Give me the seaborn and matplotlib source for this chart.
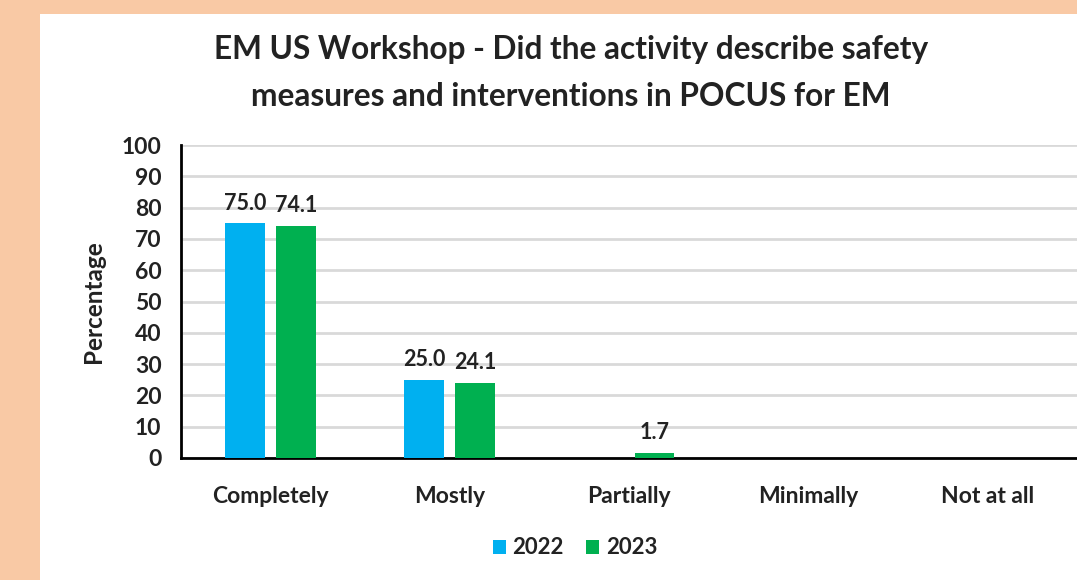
import matplotlib
matplotlib.use("Agg")
import matplotlib.pyplot as plt
import seaborn as sns
import pandas as pd
from matplotlib.patches import Rectangle

categories = ["Completely", "Mostly", "Partially", "Minimally", "Not at all"]
years = ["2022", "2023"]
values_2022 = [75.0, 25.0, 0.0, 0.0, 0.0]
values_2023 = [74.1, 24.1, 1.7, 0.0, 0.0]
colors = {"2022": "#00B0F0", "2023": "#00B050"}

df = pd.DataFrame({
    "category": categories * 2,
    "year": ["2022"] * len(categories) + ["2023"] * len(categories),
    "pct": values_2022 + values_2023,
})

sns.set_style("white")
plt.rcParams["font.family"] = ["Lato", "DejaVu Sans"]
plt.rcParams["font.weight"] = "bold"

fig = plt.figure(figsize=(10.77, 5.8), dpi=100, facecolor="#F9C9A5")
fig.patches.append(Rectangle((40 / 1077, 0), 1, 1 - 14 / 580, transform=fig.transFigure,
                             facecolor="white", edgecolor="none", zorder=-10))

ax = fig.add_axes([181 / 1077, 1 - 458 / 580, 896 / 1077, 313 / 580])
ax.set_facecolor("none")
sns.barplot(data=df, x="category", y="pct", hue="year", order=categories, hue_order=years,
            palette=colors, saturation=1, linewidth=0, width=0.57, gap=0.22, ax=ax,
            legend=True, zorder=3)

for cont in ax.containers:
    labels = [f"{b.get_height():.1f}" if b.get_height() > 0 else "" for b in cont]
    ax.bar_label(cont, labels=labels, padding=7, fontsize=15.5, fontweight="bold", color="#222222")

ax.set_ylim(0, 100)
ax.set_yticks(range(0, 101, 10))
ax.yaxis.grid(True, color="#d9d9d9", linewidth=2, zorder=0)
ax.set_axisbelow(True)
for s in ["top", "right"]:
    ax.spines[s].set_visible(False)
ax.spines["left"].set_color("black")
ax.spines["left"].set_linewidth(2)
ax.spines["bottom"].set_color("black")
ax.spines["bottom"].set_linewidth(2)
ax.tick_params(axis="y", labelsize=16.5, pad=14, length=0, labelcolor="#222222")
ax.tick_params(axis="x", labelsize=16.5, pad=20, length=0, labelcolor="#222222")
ax.set_xlabel("")
ax.set_ylabel("Percentage", fontsize=17.5, fontweight="bold", labelpad=12, color="#222222")

fig.text(571 / 1077, 1 - 50 / 580, "EM US Workshop - Did the activity describe safety",
         ha="center", va="center", fontsize=22.8, fontweight="bold", color="#222222")
fig.text(571 / 1077, 1 - 96 / 580, "measures and interventions in POCUS for EM",
         ha="center", va="center", fontsize=22.8, fontweight="bold", color="#222222")

leg = ax.legend(loc="center", bbox_to_anchor=(575 / 1077, 1 - 548 / 580), bbox_transform=fig.transFigure,
                ncol=2, frameon=False, fontsize=16, handlelength=0.6, handleheight=0.6,
                handletextpad=0.3, columnspacing=1.0)
for t in leg.get_texts():
    t.set_fontweight("bold")
    t.set_color("#222222")

fig.canvas.draw()
plt.setp(ax.get_xticklabels(), fontweight="bold")
plt.setp(ax.get_yticklabels(), fontweight="bold")

fig.savefig("out.png", dpi=100, facecolor=fig.get_facecolor())
plt.close(fig)
